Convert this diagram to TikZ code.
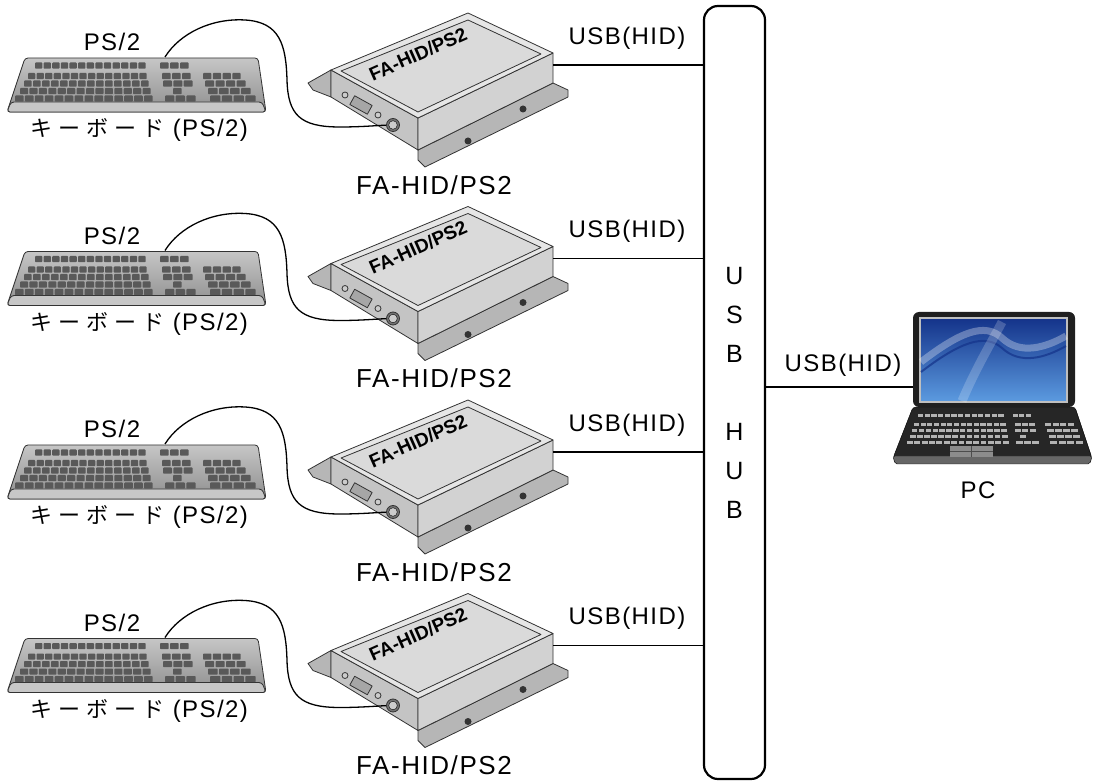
\documentclass[tikz,border=0pt]{standalone}
\usepackage{fontspec}
\setmainfont{Liberation Sans}
\newfontfamily\spaced[LetterSpace=6]{Liberation Sans}
\newfontfamily\jp[LetterSpace=28]{Noto Sans CJK JP}
\usetikzlibrary{positioning}
\definecolor{boxtop}{HTML}{E6E6E6}
\definecolor{boxpanel}{HTML}{DADADA}
\definecolor{boxfront}{HTML}{C4C4C4}
\definecolor{boxside}{HTML}{D2D2D2}
\definecolor{flange}{HTML}{B6B6B6}
\definecolor{kbtop}{HTML}{C6C6C6}
\definecolor{kbbot}{HTML}{8E8E8E}
\definecolor{scrtop}{HTML}{14338A}
\definecolor{scrbot}{HTML}{5C9BE0}

\begin{document}
\begin{tikzpicture}[x=1pt,y=-1pt,
	wire/.style={line width=1.8pt},
	edge/.style={draw=black!80, line width=0.8pt, line join=round},
	key/.style={fill=black!65, rounded corners=0.8pt},
	lapkey/.style={fill=black!30},
	txt/.style={inner sep=0pt, font=\spaced\fontsize{24}{28}\selectfont}]
	\useasboundingbox (0,0) rectangle (1093,783);
	% hub
	\node[draw, line width=2.2pt, rounded corners=14pt, minimum width=61pt, minimum height=773pt, align=center, font=\spaced\fontsize{25}{39}\selectfont] (hub) at (734.5,392.5) {U\\S\\B\\[39pt]H\\U\\B};
	% vier Reihen
	\foreach \i in {0,...,3}{
	\begin{scope}[shift={(0,193.5*\i)}]
		% Tastatur
		\draw[edge, top color=kbtop, bottom color=kbbot, rounded corners=3pt] (25,58) -- (258,58) -- (266,112) -- (7,112) -- cycle;
		\draw[edge, fill=black!22, rounded corners=3pt] (11,102) -- (262,102) -- (266,112) -- (7,112) -- cycle;
		\foreach \y/\xa/\xb/\n in {62.5/35/147/13, 62.5/160/190/3,
			73/28/148/14, 73/162/192/3, 73/203/242/4,
			80.5/24/150/14, 80.5/163/194/3, 80.5/205/247/4,
			88/20/152/14, 88/173/183/1, 88/208/252/4,
			95.5/15/154/14, 95.5/165/197/3, 95.5/210/257/4}
			\foreach \k in {1,...,\n}
				\fill[key] ({\xa+(\k-1)*(\xb-\xa)/\n},\y) rectangle +({(\xb-\xa)/\n-1.3},6.2);
		\node[txt] (ps\i) at (112,42) {PS/2};
		\node[txt] (kbl\i) at (139,130) {{\jp\fontsize{22}{28}\selectfont キーボード} (PS/2)};
		% Gehaeuse
		\draw[edge, fill=flange] (308,83) -- (331,70) -- (331,97) -- (313,90) -- cycle;
		\draw[edge, fill=flange] (418,150) -- (553,83) -- (568,90) -- (568,97) -- (425,167) -- (418,160) -- cycle;
		\draw[edge, fill=boxfront] (331,70) -- (418,118) -- (418,150) -- (331,97) -- cycle;
		\draw[edge, fill=boxside] (418,118) -- (553,53) -- (553,83) -- (418,150) -- cycle;
		\draw[edge, fill=boxtop] (331,70) -- (468,13) -- (553,53) -- (418,118) -- cycle;
		\draw[edge, fill=boxpanel] (341,71) -- (468,20) -- (541,54) -- (418,112) -- cycle;
		\fill[black!80] (468,141) circle (3.5);
		\fill[black!80] (523,109) circle (3.5);
		\draw[edge, fill=black!20] (345,95) circle (3);
		\draw[edge, fill=black!20] (378,115) circle (3);
		\draw[edge, fill=black!35, rotate around={-29:(361,105)}] (351,100) rectangle (371,110);
		\node[font=\bfseries\fontsize{19}{22}\selectfont, rotate=24, inner sep=0pt] (top\i) at (418,54) {FA-HID/PS2};
		\node[txt, font=\spaced\fontsize{26}{30}\selectfont] (name\i) at (434,185) {FA-HID/PS2};
		% Kabel PS/2
		\coordinate (kp\i) at (165,57);
		\coordinate (plug\i) at (393,125);
		\draw[line width=1.3pt] (kp\i) .. controls (180,33) and (212,18) .. (245,20) .. controls (280,22) and (286,45) .. (287,80) .. controls (288,115) and (300,127) .. (340,127) .. controls (365,127) and (380,125) .. (plug\i);
		\node[circle, edge, fill=black!55, minimum size=13pt, inner sep=0pt] (din\i) at (plug\i) {};
		\draw[fill=black!20] (plug\i) circle (4.3);
		% USB
		\coordinate (usb\i) at (553,65);
		\draw[wire] (usb\i) -- (usb\i -| hub.west);
		\node[txt] (usbl\i) at (627,38) {USB(HID)};
	\end{scope}}
	% PC
	\draw[fill=black!85, rounded corners=3pt] (893,458) -- (913,407) -- (1075,407) -- (1092,458) -- cycle;
	\draw[fill=black!60, rounded corners=2pt] (893,456) -- (1092,456) -- (1090,464) -- (895,464) -- cycle;
	\node[fill=black!88, rounded corners=6pt, minimum width=162pt, minimum height=95pt, inner sep=0pt] (pc) at (994,359.5) {};
	\shade[top color=scrtop, bottom color=scrbot, draw=black!25, line width=1.5pt] (920,318) rectangle (1067,402);
	\draw[white, opacity=0.3, line width=7pt] (921,362) .. controls (960,332) and (985,322) .. (1002,338) .. controls (1020,355) and (1045,348) .. (1066,336);
	\draw[scrtop, opacity=0.7, line width=2pt] (921,372) .. controls (960,342) and (985,333) .. (1002,348) .. controls (1020,365) and (1045,358) .. (1066,346);
	\draw[white, opacity=0.2, line width=9pt] (962,401) .. controls (975,370) and (990,345) .. (1002,322);
	\foreach \y/\xa/\xb/\n in {414/918/1005/13, 414/1013/1032/3,
		423/914/1007/14, 423/1015/1036/3, 423/1045/1075/4,
		429/912/1008/14, 429/1015/1037/3, 429/1047/1079/4,
		435/910/1009/14, 435/1020/1027/1, 435/1049/1081/4,
		441/907/1010/14, 441/1016/1040/3, 441/1050/1084/4}
		\foreach \k in {1,...,\n}
			\fill[lapkey] ({\xa+(\k-1)*(\xb-\xa)/\n},\y) rectangle +({(\xb-\xa)/\n-1.5},3.5);
	\fill[black!45] (950,446) rectangle (993,457);
	\draw[black!70, line width=0.8pt] (950,451.5) -- (993,451.5) (971.5,446) -- (971.5,457);
	\coordinate (pcin) at (913,387);
	\draw[wire] (hub.east |- pcin) -- (pcin);
	\node[txt] (usbpc) at (843,365) {USB(HID)};
	\node[txt] (pclbl) at (978,490) {PC};
\end{tikzpicture}
\end{document}
